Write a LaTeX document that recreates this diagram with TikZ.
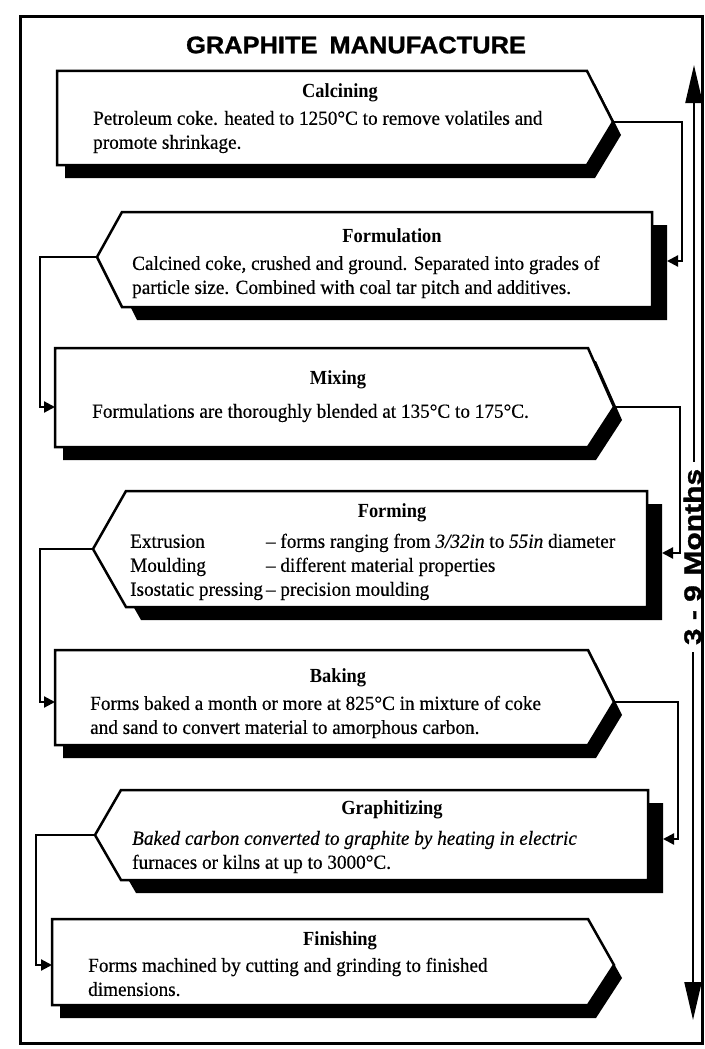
\documentclass[tikz,border=0pt]{standalone}
\usepackage{fontspec}
\setmainfont{Liberation Serif}
\newfontfamily\bodyfont[FakeStretch=0.96, FakeBold=0.4]{Liberation Serif}
\newfontfamily\labelfont[FakeStretch=0.92]{Liberation Serif}
\newfontfamily\headfont[FakeStretch=1.06, BoldFeatures={FakeBold=1.2}]{Liberation Sans}
\newfontfamily\monthsfont[FakeStretch=1.25, BoldFeatures={FakeBold=1.2}]{Liberation Sans}
\usetikzlibrary{arrows.meta}

\tikzset{
  boxline/.style={draw=black, fill=white, line width=2.5pt, line join=miter},
  boxshadow/.style={fill=black},
  conn/.style={draw=black, line width=2.2pt},
  arr/.style={conn, -{Triangle[length=11pt,width=11pt]}},
  bigarr/.style={conn, -{Triangle[length=38pt,width=17pt]}},
  steptitle/.style={font=\labelfont\bfseries\fontsize{20}{22}\selectfont, inner sep=0pt},
  steptext/.style={font=\bodyfont\fontsize{20}{24}\selectfont, align=left, inner sep=0pt, anchor=west},
}

% #1 name, #2 left, #3 top, #4 bottom, #5 corner x, #6 tip x, #7 tip y
\newcommand{\RightBox}[7]{%
  \fill[boxshadow, shift={(8,13)}] (#2,#3) -- (#5,#3) -- (#6,#7) -- (#5,#4) -- (#2,#4) -- cycle;
  \draw[boxline] (#2,#3) -- (#5,#3) -- (#6,#7) -- (#5,#4) -- (#2,#4) -- cycle;
  \coordinate (#1-out) at (#6,#7);
  \coordinate (#1-in) at (#2,#7);
}
% #1 name, #2 tip x, #3 tip y, #4 corner x, #5 top, #6 bottom, #7 right
\newcommand{\LeftBox}[7]{%
  \fill[boxshadow, shift={(15,13)}] (#2,#3) -- (#4,#5) -- (#7,#5) -- (#7,#6) -- (#4,#6) -- cycle;
  \draw[boxline] (#2,#3) -- (#4,#5) -- (#7,#5) -- (#7,#6) -- (#4,#6) -- cycle;
  \coordinate (#1-out) at (#2,#3);
  \coordinate (#1-in) at ({#7+15},{#3+4});
}

\begin{document}
\begin{tikzpicture}[x=1pt, y=-1pt]
\useasboundingbox (0,0) rectangle (704,1049);
\fill[white] (0,0) rectangle (704,1049);
\draw[line width=3pt] (20,17) rectangle (702,1043);

\node[font=\headfont\bfseries\fontsize{24}{27}\selectfont, inner sep=0pt] (title) at (356,45) {GRAPHITE\hspace{0.5em}MANUFACTURE};

% boxes
\RightBox{calc}{57}{71}{165}{587}{613}{122}
\LeftBox{form}{97}{257}{122}{212}{307}{652}
\RightBox{mix}{55}{348}{447}{588}{614}{407}
\LeftBox{forming}{93}{549}{126}{491}{607}{647}
\RightBox{bake}{55}{650}{745}{588}{614}{702}
\LeftBox{graph}{95}{835}{121}{790}{880}{648}
\RightBox{fin}{52}{919}{1005}{588}{614}{965}

% texts
\node[steptitle] (calc-t) at (340,93) {Calcining};
\node[steptext] (calc-b) at (93,132) {Petroleum coke. heated to 1250°C to remove volatiles and\\promote shrinkage.};

\node[steptitle] (form-t) at (392,236) {Formulation};
\node[steptext] (form-b) at (132,277) {Calcined coke, crushed and ground. Separated into grades of\\particle size. Combined with coal tar pitch and additives.};

\node[steptitle] (mix-t) at (338,380) {Mixing};
\node[steptext] (mix-b) at (92,413) {Formulations are thoroughly blended at 135°C to 175°C.};

\node[steptitle] (forming-t) at (392,513) {Forming};
\node[steptext] (forming-b) at (130,567) {\begin{tabular}{@{}l@{\hspace{3pt}}l@{}}
Extrusion & – forms ranging from \textit{3/32in} to \textit{55in} diameter\\
Moulding & – different material properties\\
Isostatic pressing & – precision moulding
\end{tabular}};

\node[steptitle] (bake-t) at (338,678) {Baking};
\node[steptext] (bake-b) at (90,717) {Forms baked a month or more at 825°C in mixture of coke\\and sand to convert material to amorphous carbon.};

\node[steptitle] (graph-t) at (392,810) {Graphitizing};
\node[steptext] (graph-b) at (132,852) {\textit{Baked carbon converted to graphite by heating in electric}\\furnaces or kilns at up to 3000°C.};

\node[steptitle] (fin-t) at (340,941) {Finishing};
\node[steptext] (fin-b) at (88,977) {Forms machined by cutting and grinding to finished\\dimensions.};

% connectors
\draw[arr] (calc-out) -- ++(69,0) |- (form-in);
\draw[arr] (form-out) -- ++(-57,0) |- (mix-in);
\draw[arr] (mix-out) -- ++(66,0) |- (forming-in);
\draw[arr] (forming-out) -- ++(-53,0) |- (bake-in);
\draw[arr] (bake-out) -- ++(64,0) |- (graph-in);
\draw[arr] (graph-out) -- ++(-59,0) |- (fin-in);

% duration arrow
\node[rotate=90, anchor=base, font=\monthsfont\bfseries\fontsize{24}{26}\selectfont, inner sep=7pt] (months) at (701,557) {3 - 9\hspace{0.4em}Months};
\coordinate (topend) at (694,65);
\coordinate (botend) at (693,1020);
\draw[bigarr] (months.east -| topend) -- (topend);
\draw[bigarr] (months.west -| botend) -- (botend);
\end{tikzpicture}
\end{document}
